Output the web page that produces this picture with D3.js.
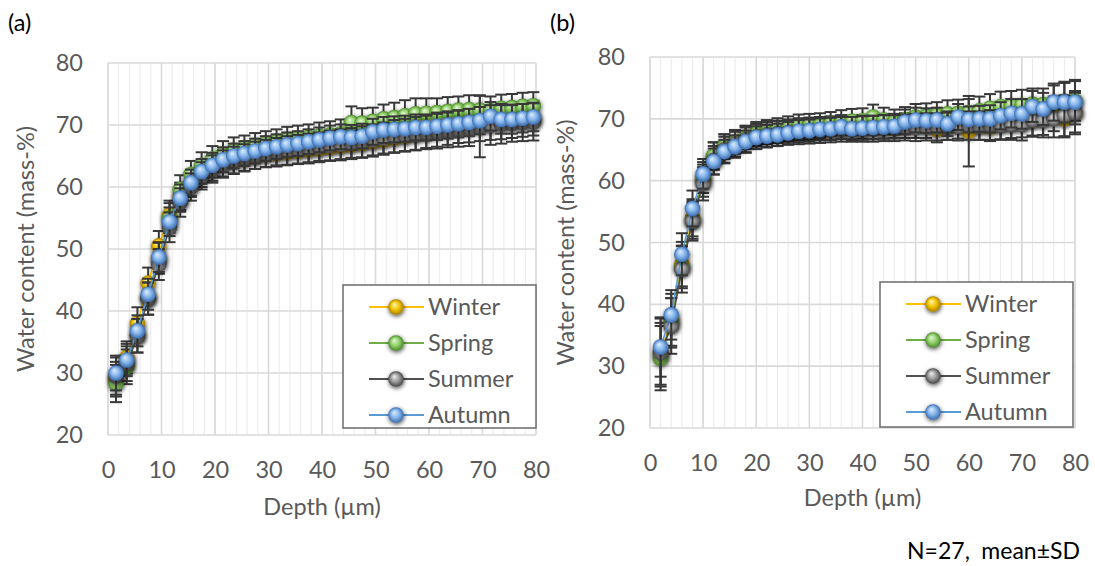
<!DOCTYPE html>
<html lang="en">
<head>
<meta charset="UTF-8">
<title>Water content</title>
<script src="https://cdn.jsdelivr.net/npm/d3@7"></script>
<style>
    body { margin: 0; background: #fff; }
    text { font-family: Lato, "Open Sans", sans-serif; }
</style>
</head>
<body>
<div id="main_container"></div>
<script>

    // ---- data ----
    var seasons = ["Winter", "Spring", "Summer", "Autumn"];
    var xTicks = [0, 10, 20, 30, 40, 50, 60, 70, 80];
    var xMinor = [0, 2, 4, 6, 8, 10, 12, 14, 16, 18, 20, 22, 24, 26, 28, 30, 32, 34, 36, 38, 40,
                  42, 44, 46, 48, 50, 52, 54, 56, 58, 60, 62, 64, 66, 68, 70, 72, 74, 76, 78, 80];
    var yTicks = [20, 30, 40, 50, 60, 70, 80];

    var depthA = [1.5, 3.5, 5.5, 7.5, 9.5, 11.5, 13.5, 15.5, 17.5, 19.5, 21.5, 23.5, 25.5, 27.5, 29.5, 31.5, 33.5, 35.5, 37.5, 39.5,
                  41.5, 43.5, 45.5, 47.5, 49.5, 51.5, 53.5, 55.5, 57.5, 59.5, 61.5, 63.5, 65.5, 67.5, 69.5, 71.5, 73.5, 75.5, 77.5, 79.5];
    var depthB = [2, 4, 6, 8, 10, 12, 14, 16, 18, 20, 22, 24, 26, 28, 30, 32, 34, 36, 38, 40,
                  42, 44, 46, 48, 50, 52, 54, 56, 58, 60, 62, 64, 66, 68, 70, 72, 74, 76, 78, 80];

    // panel (a)
    var winterA = [29.0, 32.5, 38.0, 44.5, 50.5, 55.5, 58.5, 60.5, 62.0, 63.0, 63.7, 64.2, 64.6, 64.9, 65.2, 65.4, 65.6, 65.8, 66.0, 66.2,
                   66.4, 66.6, 66.8, 67.0, 67.3, 67.6, 67.9, 68.2, 68.5, 68.8, 69.1, 69.4, 69.7, 69.9, 70.1, 70.3, 70.5, 70.7, 70.9, 71.1];
    var springA = [28.3, 31.0, 36.0, 42.0, 48.5, 55.0, 59.6, 62.0, 63.5, 64.5, 65.3, 65.9, 66.3, 66.7, 67.0, 67.3, 67.6, 67.8, 68.0, 68.2,
                   68.4, 68.6, 70.4, 70.3, 70.6, 71.0, 71.2, 71.5, 71.8, 71.9, 72.0, 72.2, 72.4, 72.5, 72.4, 72.3, 72.7, 72.8, 73.0, 73.1];
    var summerA = [29.5, 31.5, 36.0, 42.0, 47.5, 53.5, 57.5, 60.0, 61.8, 62.9, 63.7, 64.3, 64.7, 65.1, 65.4, 65.7, 65.9, 66.1, 66.3, 66.5,
                   66.7, 66.9, 67.1, 67.3, 67.6, 67.9, 68.2, 68.4, 68.6, 68.8, 69.0, 69.2, 69.4, 69.6, 69.8, 70.0, 70.2, 70.3, 70.4, 70.5];
    var autumnA = [30.0, 32.1, 36.8, 42.7, 48.7, 54.4, 58.2, 60.7, 62.5, 63.5, 64.4, 65.0, 65.4, 65.8, 66.2, 66.5, 66.8, 67.0, 67.3, 67.6,
                   67.9, 68.1, 68.0, 68.2, 68.9, 69.2, 69.3, 69.4, 69.6, 69.6, 69.8, 70.0, 70.2, 70.4, 70.7, 71.4, 70.9, 70.9, 71.1, 71.3];
    var sdWinterA = [2.8, 2.6, 2.6, 2.5, 2.4, 2.3, 2.2, 2.1, 2.0, 2.0, 2.0, 2.0, 2.0, 2.0, 2.0, 2.1, 2.1, 2.1, 2.2, 2.2,
                     2.2, 2.3, 2.3, 2.3, 2.4, 2.4, 2.4, 2.5, 2.5, 2.5, 2.6, 2.6, 2.6, 2.7, 2.7, 2.7, 2.8, 2.8, 2.8, 2.8];
    var sdSpringA = [3.0, 2.8, 2.7, 2.6, 2.5, 2.4, 2.3, 2.2, 2.1, 2.1, 2.1, 2.1, 2.0, 2.0, 2.0, 2.0, 2.1, 2.1, 2.1, 2.2,
                     2.2, 2.3, 2.6, 2.4, 2.2, 2.3, 2.4, 2.5, 2.5, 2.4, 2.3, 2.3, 2.2, 2.3, 2.3, 2.3, 2.2, 2.2, 2.2, 2.2];
    var sdSummerA = [3.0, 2.8, 2.7, 2.6, 2.5, 2.4, 2.3, 2.2, 2.2, 2.2, 2.2, 2.2, 2.2, 2.2, 2.2, 2.2, 2.3, 2.3, 2.3, 2.3,
                     2.4, 2.4, 2.4, 2.5, 2.5, 2.5, 2.6, 2.6, 2.7, 2.7, 2.8, 2.8, 2.9, 3.0, 5.0, 3.2, 3.2, 3.0, 3.0, 3.0];
    var sdAutumnA = [2.8, 2.6, 2.5, 2.5, 2.4, 2.3, 2.2, 2.1, 2.0, 2.0, 2.0, 2.0, 2.0, 2.0, 2.0, 2.0, 2.0, 2.0, 2.0, 2.0,
                     2.0, 2.0, 2.0, 2.0, 2.1, 2.1, 2.1, 2.1, 2.1, 2.1, 2.2, 2.2, 2.2, 2.2, 2.2, 2.3, 2.3, 2.3, 2.3, 2.3];

    // panel (b)
    var winterB = [32.0, 37.5, 46.5, 54.0, 60.0, 64.0, 65.5, 66.3, 67.0, 67.4, 67.7, 67.9, 68.1, 68.3, 68.4, 68.5, 68.5, 68.6, 68.6, 68.7,
                   68.7, 68.8, 68.8, 68.9, 69.0, 69.0, 68.3, 68.8, 69.0, 68.0, 68.9, 68.7, 69.1, 69.3, 69.5, 69.8, 70.0, 70.8, 70.0, 71.0];
    var springB = [31.3, 37.0, 46.0, 53.5, 60.5, 64.0, 65.5, 66.3, 67.0, 67.6, 67.9, 68.2, 68.5, 68.8, 68.9, 69.0, 69.2, 69.4, 69.6, 69.7,
                   70.3, 69.8, 69.5, 69.9, 70.3, 70.4, 70.6, 70.8, 70.9, 71.0, 71.3, 71.7, 72.0, 72.1, 72.2, 72.4, 72.3, 72.6, 72.8, 72.9];
    var summerB = [32.2, 36.5, 45.7, 53.5, 59.5, 63.3, 65.0, 65.9, 66.6, 67.1, 67.4, 67.6, 67.8, 67.9, 68.0, 68.1, 68.2, 68.3, 68.3, 68.4,
                   68.4, 68.5, 68.5, 68.6, 68.6, 68.7, 68.7, 68.8, 68.8, 68.9, 68.9, 69.0, 69.0, 69.1, 69.1, 69.8, 69.8, 70.0, 70.5, 71.0];
    var autumnB = [33.1, 38.3, 48.1, 55.5, 61.1, 63.1, 64.7, 65.5, 66.3, 67.0, 67.2, 67.4, 67.7, 68.0, 68.1, 68.3, 68.4, 68.7, 68.4, 68.5,
                   68.6, 68.7, 68.8, 69.5, 69.8, 69.7, 69.8, 69.2, 70.3, 69.9, 70.0, 70.0, 70.5, 70.9, 70.8, 72.0, 71.6, 72.7, 72.7, 72.7];
    var sdWinterB = [5.0, 4.2, 3.6, 3.0, 2.6, 2.2, 2.0, 1.9, 1.8, 1.8, 1.8, 1.8, 1.8, 1.8, 1.8, 1.8, 1.9, 1.9, 1.9, 1.9,
                     2.0, 2.0, 2.0, 2.0, 2.1, 2.1, 2.1, 2.2, 2.2, 5.7, 2.3, 2.3, 2.4, 2.4, 2.5, 2.5, 2.6, 2.8, 3.0, 3.2];
    var sdSpringB = [5.2, 4.0, 3.4, 2.9, 2.5, 2.2, 2.0, 1.9, 1.9, 1.9, 1.9, 1.9, 1.9, 1.9, 1.9, 1.9, 1.9, 2.0, 2.0, 2.0,
                     2.0, 2.0, 2.0, 2.0, 2.1, 2.1, 2.1, 2.2, 2.2, 2.2, 2.3, 2.3, 2.4, 2.4, 2.5, 2.5, 2.6, 2.8, 3.0, 3.2];
    var sdSummerB = [5.5, 4.5, 3.8, 3.2, 2.7, 2.3, 2.1, 2.0, 2.0, 2.0, 2.0, 2.0, 2.0, 2.0, 2.0, 2.0, 2.0, 2.0, 2.0, 2.1,
                     2.1, 2.1, 2.1, 2.1, 2.2, 2.2, 2.2, 2.2, 2.3, 2.3, 2.3, 2.4, 2.4, 2.5, 2.6, 2.7, 2.8, 3.0, 3.3, 3.5];
    var sdAutumnB = [4.8, 4.0, 3.4, 2.9, 2.4, 2.1, 1.9, 1.8, 1.8, 1.8, 1.8, 1.8, 1.8, 1.8, 1.8, 1.8, 1.8, 1.9, 1.9, 1.9,
                     1.9, 1.9, 1.9, 2.0, 2.0, 2.0, 2.0, 2.0, 2.1, 2.1, 2.1, 2.2, 2.2, 2.3, 2.4, 2.5, 2.6, 3.0, 3.3, 3.6];

    // ---- styles ----
    var lineColor = { Winter: "#FFC000", Spring: "#70AD47", Summer: "#505050", Autumn: "#5B9BD5" };
    var ballStops = {
        Winter: ["#fff7b8", "#f2c400", "#a98000"],
        Spring: ["#e6f6d8", "#92cf6c", "#4c8a2a"],
        Summer: ["#f0f0f0", "#9a9a9a", "#474747"],
        Autumn: ["#e0eeff", "#84b4ea", "#3b6cad"]
    };
    var textColor = "#595959";
    var fontSize = "23.5px";

    var svg = d3.select("#main_container").append("svg")
            .attr("width", 1095)
            .attr("height", 566);

    var defs = svg.append("defs");
    seasons.forEach(function(s) {
        var g = defs.append("radialGradient")
            .attr("id", "ball-" + s)
            .attr("cx", "50%").attr("cy", "50%").attr("r", "50%")
            .attr("fx", "38%").attr("fy", "32%");
        g.append("stop").attr("offset", "0%").attr("stop-color", ballStops[s][0]);
        g.append("stop").attr("offset", "55%").attr("stop-color", ballStops[s][1]);
        g.append("stop").attr("offset", "100%").attr("stop-color", ballStops[s][2]);
    });
    var f = defs.append("filter").attr("id", "shadow")
        .attr("x", "-50%").attr("y", "-50%").attr("width", "200%").attr("height", "200%");
    f.append("feDropShadow")
        .attr("dx", 0.5).attr("dy", 1.5).attr("stdDeviation", 2)
        .attr("flood-color", "#000").attr("flood-opacity", 0.7);

    function drawPanel(p) {
        var x = d3.scaleLinear().domain([0, 80]).range([p.left, p.right]);
        var y = d3.scaleLinear().domain([20, 80]).range([p.bottom, p.top]);
        var g = svg.append("g");

        // grid
        g.selectAll(".minor").data(xMinor).enter().append("line")
            .attr("x1", function(d){ return x(d); }).attr("x2", function(d){ return x(d); })
            .attr("y1", p.top).attr("y2", p.bottom)
            .attr("stroke", "#ebebeb").attr("stroke-width", 1);
        g.selectAll(".vmajor").data(xTicks).enter().append("line")
            .attr("x1", function(d){ return x(d); }).attr("x2", function(d){ return x(d); })
            .attr("y1", p.top).attr("y2", p.bottom)
            .attr("stroke", "#d9d9d9").attr("stroke-width", 1.6);
        g.selectAll(".hmajor").data(yTicks).enter().append("line")
            .attr("x1", p.left).attr("x2", p.right)
            .attr("y1", function(d){ return y(d); }).attr("y2", function(d){ return y(d); })
            .attr("stroke", "#d9d9d9").attr("stroke-width", 1.6);

        // axes (labels only)
        var ya = g.append("g").attr("transform", "translate(" + (p.left - 25) + ",0)")
            .call(d3.axisLeft(y).tickValues(yTicks).tickSize(0).tickPadding(0));
        ya.select(".domain").remove();
        ya.selectAll("text").attr("fill", textColor).style("font-size", fontSize).style("font-family", "Lato");

        var xa = g.append("g").attr("transform", "translate(0," + p.xLabelY + ")")
            .call(d3.axisBottom(x).tickValues(xTicks).tickSize(0).tickPadding(0));
        xa.select(".domain").remove();
        xa.selectAll("text").attr("fill", textColor).style("font-size", fontSize).style("font-family", "Lato")
            .attr("dy", "0.35em").attr("y", 0);

        g.append("text")
            .attr("transform", "translate(" + p.yTitleX + "," + ((p.top + p.bottom) / 2) + ") rotate(-90)")
            .attr("text-anchor", "middle").attr("dy", "0.35em")
            .attr("fill", textColor).style("font-size", fontSize)
            .text("Water content (mass-%)");
        g.append("text")
            .attr("x", (p.left + p.right) / 2).attr("y", p.xTitleY)
            .attr("text-anchor", "middle").attr("dy", "0.35em")
            .attr("fill", textColor).style("font-size", fontSize)
            .text("Depth (\u00b5m)");

        g.append("text").attr("x", p.tagX).attr("y", 31)
            .attr("fill", "#000").style("font-size", fontSize).text(p.tag);

        // series
        var line = d3.line()
            .x(function(d){ return x(d.x); })
            .y(function(d){ return y(d.y); });

        seasons.forEach(function(s) {
            var vals = p.values[s], sds = p.sds[s];
            var pts = vals.map(function(v, i){ return { x: p.depth[i], y: v, sd: sds[i] }; });
            var sg = g.append("g");

            sg.append("path").datum(pts)
                .attr("fill", "none").attr("stroke", lineColor[s]).attr("stroke-width", 1.6)
                .attr("d", line);

            var eb = sg.append("g").attr("stroke", "#383838").attr("stroke-width", 2);
            eb.selectAll(".ev").data(pts).enter().append("line")
                .attr("x1", function(d){ return x(d.x); }).attr("x2", function(d){ return x(d.x); })
                .attr("y1", function(d){ return y(d.y - d.sd); }).attr("y2", function(d){ return y(d.y + d.sd); });
            eb.selectAll(".ct").data(pts).enter().append("line")
                .attr("x1", function(d){ return x(d.x) - 6; }).attr("x2", function(d){ return x(d.x) + 6; })
                .attr("y1", function(d){ return y(d.y + d.sd); }).attr("y2", function(d){ return y(d.y + d.sd); });
            eb.selectAll(".cb").data(pts).enter().append("line")
                .attr("x1", function(d){ return x(d.x) - 6; }).attr("x2", function(d){ return x(d.x) + 6; })
                .attr("y1", function(d){ return y(d.y - d.sd); }).attr("y2", function(d){ return y(d.y - d.sd); });

            sg.append("g").attr("filter", "url(#shadow)")
                .selectAll("circle").data(pts).enter().append("circle")
                .attr("cx", function(d){ return x(d.x); })
                .attr("cy", function(d){ return y(d.y); })
                .attr("r", 7.8)
                .attr("fill", "url(#ball-" + s + ")");
        });

        // legend
        var lg = g.append("g");
        lg.append("rect")
            .attr("x", p.legend.x).attr("y", p.legend.y)
            .attr("width", p.legend.w).attr("height", p.legend.h)
            .attr("fill", "#fff").attr("stroke", "#6b6b6b").attr("stroke-width", 1.5);
        seasons.forEach(function(s, i) {
            var ly = p.legend.y + 22 + i * 36;
            var lx = p.legend.x + 26;
            lg.append("line").attr("x1", lx).attr("x2", lx + 55).attr("y1", ly).attr("y2", ly)
                .attr("stroke", lineColor[s]).attr("stroke-width", 2);
            lg.append("circle").attr("cx", lx + 27).attr("cy", ly).attr("r", 7.8)
                .attr("fill", "url(#ball-" + s + ")").attr("filter", "url(#shadow)");
            lg.append("text").attr("x", lx + 59).attr("y", ly).attr("dy", "0.36em")
                .attr("fill", textColor).style("font-size", fontSize).text(s);
        });
    }

    drawPanel({
        tag: "(a)", tagX: 8,
        left: 108, right: 536, top: 63, bottom: 435,
        xLabelY: 470, xTitleY: 507, yTitleX: 26,
        legend: { x: 343, y: 285, w: 193, h: 143 },
        depth: depthA,
        values: { Winter: winterA, Spring: springA, Summer: summerA, Autumn: autumnA },
        sds: { Winter: sdWinterA, Spring: sdSpringA, Summer: sdSummerA, Autumn: sdAutumnA }
    });

    drawPanel({
        tag: "(b)", tagX: 550,
        left: 650, right: 1075, top: 57, bottom: 428,
        xLabelY: 463, xTitleY: 498, yTitleX: 566,
        legend: { x: 880, y: 282, w: 193, h: 145 },
        depth: depthB,
        values: { Winter: winterB, Spring: springB, Summer: summerB, Autumn: autumnB },
        sds: { Winter: sdWinterB, Spring: sdSpringB, Summer: sdSummerB, Autumn: sdAutumnB }
    });

    svg.append("text")
        .attr("x", 1080).attr("y", 559)
        .attr("text-anchor", "end")
        .attr("fill", "#000").style("font-size", "23px")
        .text("N=27,\u2002mean\u00b1SD");

</script>
</body>
</html>
